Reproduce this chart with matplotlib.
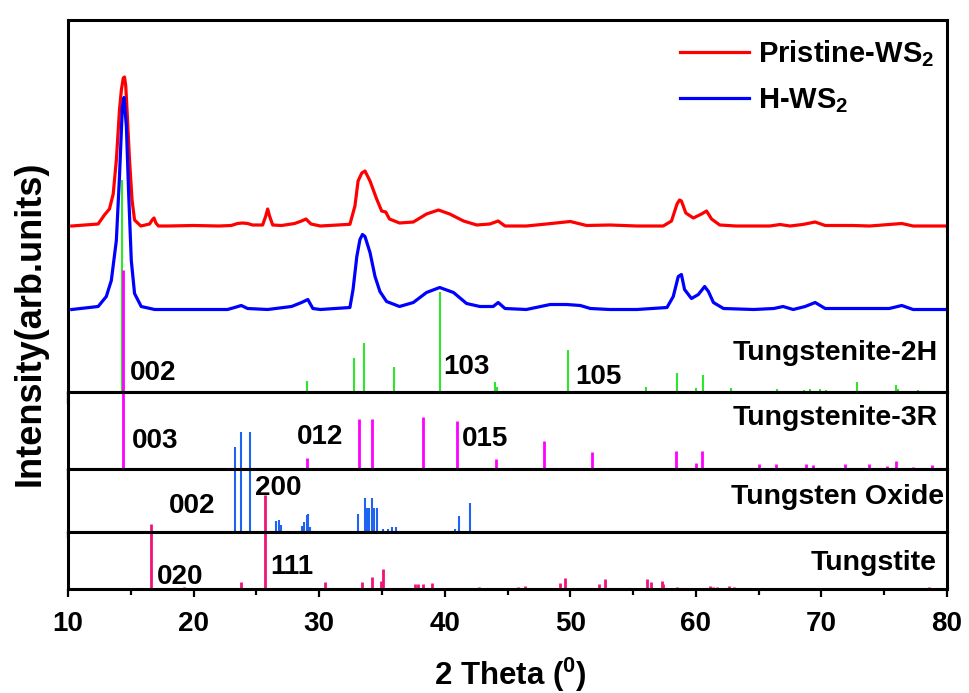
import matplotlib
matplotlib.use("Agg")
import matplotlib.pyplot as plt
from matplotlib.ticker import MultipleLocator

plt.rcParams['font.family'] = ['Liberation Sans', 'DejaVu Sans']
plt.rcParams['font.weight'] = 'bold'
plt.rcParams['mathtext.fontset'] = 'custom'
plt.rcParams['mathtext.rm'] = 'Liberation Sans:bold'
plt.rcParams['mathtext.it'] = 'Liberation Sans:bold'
plt.rcParams['mathtext.bf'] = 'Liberation Sans:bold'
plt.rcParams['mathtext.default'] = 'rm'

# measured patterns (background subtracted, a.u.)
tt_pristine = [10.3, 12.4, 12.9, 13.3, 13.6, 13.85, 14.1, 14.25, 14.4, 14.5, 14.6, 14.7, 14.9,
               15.1, 15.3, 15.8, 16.5, 16.7, 16.85, 17.0, 17.2, 18.0, 20.0, 22.0, 23.0, 23.5,
               23.9, 24.3, 24.7, 25.5, 25.75, 25.9, 26.05, 26.3, 27.0, 28.05, 28.6, 28.95, 29.35,
               30.1, 32.45, 32.85, 33.1, 33.4, 33.65, 34.05, 34.58, 34.98, 35.3, 35.6, 36.4,
               37.5, 38.55, 39.5, 40.4, 41.5, 42.55, 43.6, 44.26, 44.8, 46.5, 48.1, 50.0, 51.3,
               53.15, 55.3, 57.4, 58.06, 58.5, 58.7, 58.85, 59.2, 59.8, 60.45, 60.85, 61.25,
               61.9, 63.2, 65.9, 66.7, 67.5, 68.5, 69.5, 70.3, 72.5, 73.85, 76.4, 77.3, 80.0]
i_pristine = [0, 2, 11, 17, 32, 66, 116, 136, 148, 149, 140, 116, 66,
              26, 6, 0, 2, 6, 8, 3, 0, 0, 0.5, 0, 0.5, 2.5,
              3, 2.5, 1, 1, 10, 17, 10, 1, 0.5, 2.5, 5, 7, 2,
              0, 1.7, 20, 45, 53, 55, 45, 27, 15, 14, 7, 3,
              4, 12, 16, 12, 5, 1, 2, 5, 0, 0, 2, 4.5, 0.5,
              1, 0, 0, 5, 22, 26, 25, 13, 8, 12, 15, 7,
              1, 0, 0, 1.5, 0, 1.5, 4, 0.5, 0.5, 0, 2.5, 0, 0]

tt_h = [10.3, 12.4, 13.05, 13.45, 13.85, 14.1, 14.33, 14.46, 14.65, 14.83, 15.04, 15.3, 15.83,
        16.9, 22.7, 23.27, 23.8, 24.3, 25.9, 27.8, 28.6, 29.1, 29.5, 30.1, 32.45, 32.7, 33.0,
        33.25, 33.45, 33.65, 34.05, 34.45, 34.84, 35.37, 36.4, 37.5, 38.55, 39.6, 40.7, 41.74,
        42.8, 43.86, 44.26, 44.8, 46.5, 48.4, 49.7, 50.8, 51.6, 53.15, 55.3, 57.7, 58.2, 58.6,
        58.85, 59.1, 59.65, 60.2, 60.7, 61.0, 61.4, 62.2, 64.6, 66.2, 66.95, 67.75, 68.7, 69.5,
        70.3, 72.5, 75.4, 76.4, 77.3, 80.0]
i_h = [0, 3, 13, 29, 69, 133, 203, 212, 183, 116, 49, 16, 3,
       0, 0, 2, 4, 1, 0, 3, 7, 10, 1, 0, 2, 20, 53,
       70, 75, 73, 57, 33, 18, 8, 3, 7, 17, 22, 17, 6,
       3, 3, 7, 1, 0, 5, 5, 4, 1, 0, 0, 2, 13, 33,
       35, 20, 11, 15, 23, 18, 7, 1, 0, 1, 3, 0, 3, 7,
       1, 1, 1, 4, 0, 0]

# reference patterns
tt_2h = [14.3, 29.0, 32.8, 33.6, 36.0, 39.6, 44.0, 44.2, 49.8, 56.0, 58.5, 60.0, 60.6, 62.8,
         66.5, 68.6, 69.1, 69.9, 70.4, 72.8, 75.9, 76.1, 77.7]
i_2h = [212, 11, 34, 49, 25, 100, 10, 5, 42, 5, 19, 4, 17, 4,
        3, 2, 3, 3, 2, 10, 7, 3, 2]

tt_3r = [14.4, 29.0, 33.2, 34.2, 38.3, 41.0, 44.1, 47.9, 51.7, 58.4, 60.0, 60.5, 65.0,
         66.4, 68.8, 69.3, 71.9, 73.8, 75.2, 75.9, 77.3, 78.8]
i_3r = [199, 11, 50, 50, 52, 48, 10, 28, 17, 18, 6, 18, 5,
        5, 5, 4, 5, 5, 3, 8, 2, 4]

tt_wo3 = [23.3, 23.77, 24.5, 26.6, 26.8, 27.0, 28.6, 28.8, 29.0, 29.1, 29.3, 33.1, 33.65,
          33.8, 34.0, 34.2, 34.4, 34.6, 35.1, 35.5, 35.8, 36.1, 40.8, 41.1, 42.0]
i_wo3 = [85, 100, 100, 11, 12, 7, 6, 10, 17, 18, 5, 18, 34,
         24, 24, 34, 24, 24, 3, 3, 5, 5, 3, 16, 29]

tt_tungstite = [16.6, 19.2, 23.8, 25.7, 30.5, 33.45, 34.2, 34.9, 35.1, 37.6, 37.9, 38.3,
                38.95, 39.5, 42.75, 44.1, 45.85, 46.4, 48.5, 49.2, 49.6, 52.3, 52.75, 54.35,
                56.1, 56.4, 57.3, 57.4, 58.5, 61.1, 61.35, 61.65, 62.65, 63.0, 66.2, 71.9,
                73.4, 73.9, 74.4, 78.6]
i_tungstite = [65, 2, 7, 94, 7, 7, 12, 8, 20, 5, 5, 5,
               6, 1, 2, 1, 2, 3, 1, 6, 11, 5, 10, 1,
               10, 7, 8, 5, 2, 3, 2, 2, 3, 2, 1, 1,
               1, 1, 1, 2]

W, H = 969, 693
fig = plt.figure(figsize=(W / 100, H / 100), dpi=100)

# panel edges in pixels (top, bottom)
x0, x1 = 68, 947
edges = [(20, 391.5), (391.5, 469), (469, 532.3), (532.3, 588.5)]
axes = []
for top, bot in edges:
    ax = fig.add_axes([x0 / W, 1 - bot / H, (x1 - x0) / W, (bot - top) / H])
    ax.set_xlim(10, 80)
    ax.set_ylim(0, bot - top)
    ax.set_yticks([])
    for s in ax.spines.values():
        s.set_linewidth(2.2)
    ax.xaxis.set_major_locator(MultipleLocator(10))
    axes.append(ax)
ax_main, ax_3r, ax_wo3, ax_tung = axes

for ax in axes[:-1]:
    ax.tick_params(axis='x', labelbottom=False)
ax_main.tick_params(axis='x', direction='out', length=8.5, width=1.6)
ax_3r.tick_params(axis='x', direction='out', length=8, width=1.6)
ax_wo3.tick_params(axis='x', direction='out', length=4, width=1.6)
ax_tung.xaxis.set_minor_locator(MultipleLocator(5))
ax_tung.tick_params(axis='x', which='major', direction='out', length=6, width=1.6,
                    labelsize=20, pad=10)
ax_tung.tick_params(axis='x', which='minor', direction='out', length=4, width=1.6)

# stacked patterns
off_h, off_pristine = 82, 165.5
ax_main.plot(tt_pristine, [v + off_pristine for v in i_pristine], color='#FF0000', lw=2.3,
             label='Pristine-WS$_2$')
ax_main.plot(tt_h, [v + off_h for v in i_h], color='#0000FF', lw=2.3, label='H-WS$_2$')
ax_main.vlines(tt_2h, 0, i_2h, color='#2EE52E', lw=1.5)

ax_3r.vlines(tt_3r, 0, i_3r, color='#FF00FF', lw=2, clip_on=False)
ax_wo3.vlines(tt_wo3, 0, i_wo3, color='#1E64F0', lw=1.5, clip_on=False)
ax_tung.vlines(tt_tungstite, 0, i_tungstite, color='#F0137A', lw=2, clip_on=False)

ax_main.legend(loc='upper right', bbox_to_anchor=(0.985, 0.95), frameon=False,
               fontsize=21, handlelength=2.35, handletextpad=0.3, labelspacing=0.58,
               borderpad=0, borderaxespad=0)

hkl = dict(fontsize=20, fontweight='bold', va='baseline', ha='left')
phase = dict(fontsize=20.5, fontweight='bold', va='baseline', ha='right')

ax_main.text(14.9, 11.7, '002', **hkl)
ax_main.text(39.9, 17.5, '103', **hkl)
ax_main.text(50.4, 7.5, '105', **hkl)
ax_main.text(79.3, 31.5, 'Tungstenite-2H', **phase)

ax_3r.text(15.1, 20.5, '003', **hkl)
ax_3r.text(28.25, 25, '012', **hkl)
ax_3r.text(41.4, 23.3, '015', **hkl)
ax_3r.text(79.3, 44, 'Tungstenite-3R', **phase)

ax_wo3.text(18.0, 19.5, '002', **hkl)
ax_wo3.text(24.9, 37, '200', **hkl)
ax_wo3.text(79.75, 28, 'Tungsten Oxide', **phase)

ax_tung.text(17.06, 4.5, '020', **hkl)
ax_tung.text(26.1, 14.5, '111', **hkl)
ax_tung.text(79.16, 18.5, 'Tungstite', **phase)

fig.text(510 / W, 1 - 685 / H, '2 Theta ($^0$)', fontsize=22.5, fontweight='bold',
         ha='center', va='baseline')
fig.text(30 / W, 1 - 323 / H, 'Intensity(arb.units)', fontsize=26, fontweight='bold',
         rotation=90, ha='center', va='center')

fig.savefig('out.png', dpi=100)
